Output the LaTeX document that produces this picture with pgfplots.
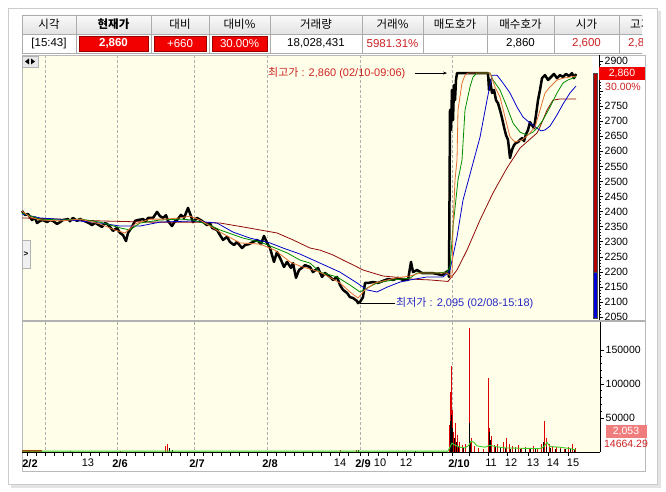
\documentclass[border=0pt]{standalone}
\usepackage{pgfplots}
\pgfplotsset{compat=1.18}
\usetikzlibrary{arrows.meta}
\usepackage{fontspec}
\setmainfont{Liberation Sans}
\newfontfamily\kr{Noto Sans CJK KR}
\definecolor{bgy}{RGB}{255,255,233}
\definecolor{gridc}{RGB}{175,175,175}
\definecolor{ma5}{RGB}{228,112,52}
\definecolor{ma10}{RGB}{0,140,0}
\definecolor{ma20}{RGB}{0,0,205}
\definecolor{ma60}{RGB}{145,10,10}
\definecolor{hired}{RGB}{205,35,35}
\definecolor{lowblue}{RGB}{40,40,195}
\definecolor{cellred}{RGB}{242,0,0}
\definecolor{volred}{RGB}{222,0,0}
\definecolor{volgreen}{RGB}{60,205,40}
\definecolor{pinkc}{RGB}{240,125,125}
\begin{document}
\begin{tikzpicture}[x=1pt,y=1pt]
\path[fill=white] (0,0) rectangle (666,492);
\begin{scope}[shift={(0,492)}, y=-1pt]
% card with shadow
\fill[gray!22] (11,11) rectangle (661,488);
\fill[white] (8,8) rectangle (657,484);
\draw[gray!40] (8,8) rectangle (657,484);
% header table
\begin{scope}
\clip (21.5,14.5) rectangle (642,53.5);
\shade[top color=gray!4, bottom color=gray!22] (22,15) rectangle (700,34);
\draw[gray!65] (22,15) rectangle (700,53);
\draw[gray!65] (22,34) -- (700,34);
\foreach \x in {76,151,209,270,362,423,487,554,619} \draw[gray!65] (\x,15) -- (\x,53);
\fill[cellred] (79,36) rectangle (148,51);
\fill[cellred] (154,36) rectangle (206,51);
\fill[cellred] (212,36) rectangle (267,51);
\draw[red!60!black] (79,36) rectangle (148,51);
\draw[red!60!black] (154,36) rectangle (206,51);
\draw[red!60!black] (212,36) rectangle (267,51);
\begin{scope}[every node/.style={font=\kr\fontsize{11.5}{12}\selectfont, inner sep=0pt}]
\node at (49,24.5) {시각};
\node at (113.5,24.5) {\bfseries 현재가};
\node at (180,24.5) {대비};
\node at (239.5,24.5) {대비\%};
\node at (316,24.5) {거래량};
\node at (392.5,24.5) {거래\%};
\node at (455,24.5) {매도호가};
\node at (520.5,24.5) {매수호가};
\node at (586.5,24.5) {시가};
\node[anchor=west] at (630,24.5) {고가};
\end{scope}
\begin{scope}[every node/.style={font=\fontsize{11.5}{12}\selectfont, inner sep=0pt}]
\node at (49,43.5) {[15:43]};
\node[text=white] at (113.5,43.5) {\bfseries 2,860};
\node[text=white] at (180,43.5) {+660};
\node[text=white] at (239.5,43.5) {30.00\%};
\node at (316,43.5) {18,028,431};
\node[text=hired] at (392.5,43.5) {5981.31\%};
\node at (520.5,43.5) {2,860};
\node[text=hired] at (586.5,43.5) {2,600};
\node[text=hired, anchor=west] at (628,43.5) {2,860};
\end{scope}
\end{scope}
% chart backgrounds
\fill[bgy] (22,55) rectangle (592,320);
\fill[bgy] (22,322) rectangle (600,452);
\foreach \x in {45,117,194,267,360,452} {
  \draw[gridc, dashed, dash pattern=on 3pt off 2pt] (\x,55) -- (\x,320);
  \draw[gridc, dashed, dash pattern=on 3pt off 2pt] (\x,322) -- (\x,452);
}
\draw[gray!55] (22,55) rectangle (645,471);
\draw[gray!60, line width=1.6pt] (22,321) -- (645,321);
% small widgets
\fill[gray!18] (22,56) rectangle (38,67);
\draw[gray!60] (22,56) rectangle (38,67);
\fill[black] (25,61.5) -- (29,58.5) -- (29,64.5) -- cycle;
\fill[black] (35,61.5) -- (31,58.5) -- (31,64.5) -- cycle;
\fill[gray!12] (22,240) rectangle (30,268);
\draw[gray!60] (22,240) rectangle (30,268);
\node[font=\fontsize{8}{8}\selectfont\bfseries, inner sep=0pt] at (26,254) {>};
\end{scope}

% ---------------- price panel ----------------
\begin{axis}[
  at={(22pt,172pt)}, anchor=south west,
  width=577pt, height=265pt, scale only axis,
  xmin=22, xmax=599, ymin=2040, ymax=2920,
  axis x line=none, axis y line*=right,
  ytick={2050,2100,...,2900}, minor y tick num=4,
  yticklabels={2050,2100,2150,2200,2250,2300,2350,2400,2450,2500,2550,2600,2650,2700,2750,{},{},2900},
  tick align=outside, major tick length=4pt, minor tick length=2pt,
  y axis line style={black, line width=0.5pt},
  tick style={black, line width=0.5pt},
  yticklabel style={font=\fontsize{10.5}{11}\selectfont, inner sep=1.5pt},
  clip=false,
]
% range bar
\addplot[fill=red!70!black, draw=black!70, line width=0.3pt] coordinates {(593,2200) (597,2200) (597,2860) (593,2860) (593,2200)};
\addplot[fill=blue!85!black, draw=black!70, line width=0.3pt] coordinates {(593,2045) (597,2045) (597,2200) (593,2200) (593,2045)};
% price
\addplot[black, line width=2.5pt, line join=round] coordinates {
(22,2402)(25,2389)(28,2392)(32,2372)(35,2380)(37,2362)(40,2369)(43,2372)(47,2365)(50,2372)(53,2369)(57,2359)(60,2365)(63,2372)(68,2375)(70,2368)(73,2379)(77,2369)(80,2376)(82,2372)(87,2365)(90,2360)(92,2355)(95,2363)(97,2359)(102,2349)(105,2362)(107,2359)(110,2349)(113,2336)(117,2346)(120,2329)(123,2322)(126,2302)(128,2329)(132,2349)(135,2369)(138,2372)(143,2375)(146,2368)(148,2379)(153,2379)(157,2399)(160,2385)(163,2379)(166,2388)(168,2369)(172,2352)(175,2368)(177,2372)(181,2389)(184,2379)(188,2412)(191,2385)(193,2365)(197,2379)(202,2369)(207,2355)(210,2362)(212,2346)(217,2339)(220,2322)(223,2306)(227,2316)(230,2299)(234,2289)(237,2299)(242,2279)(245,2289)(249,2292)(253,2299)(257,2306)(261,2292)(264,2319)(267,2296)(270,2279)(274,2233)(277,2266)(281,2239)(284,2216)(287,2233)(291,2213)(293,2229)(296,2180)(299,2206)(303,2216)(305,2222)(310,2216)(313,2199)(318,2213)(322,2183)(325,2196)(330,2183)(333,2173)(337,2183)(340,2156)(343,2140)(347,2130)(350,2116)(353,2113)(357,2103)(358,2096)(360,2100)(363,2116)(365,2163)(368,2163)(373,2166)(378,2163)(383,2170)(388,2176)(393,2173)(398,2180)(403,2173)(408,2173)(411,2233)(413,2199)(417,2206)(422,2196)(427,2196)(432,2196)(437,2193)(442,2189)(445,2196)(448,2203)(449,2183)
(449.5,2438)(450,2738)(451,2671)(452,2804)(453,2704)(454,2820)(455,2770)(456,2837)(457,2860)(488,2860)(489,2804)(490,2837)(492,2794)(494,2804)(496,2770)(498,2760)(500,2737)(502,2711)(504,2681)(506,2654)(508,2638)(510,2578)(512,2605)(514,2621)(516,2628)(518,2631)(520,2638)(522,2644)(524,2634)(526,2657)(528,2671)(530,2697)(532,2687)(534,2677)(536,2721)(538,2770)(540,2804)(542,2843)(545,2853)(548,2837)(551,2847)(554,2857)(557,2843)(560,2853)(563,2847)(566,2857)(569,2850)(572,2860)(574,2843)(576,2857)
};
% moving averages
\addplot[ma60, line width=0.8pt] coordinates {
(22,2379)(60,2375)(100,2369)(150,2365)(193,2365)(220,2362)(243,2349)(260,2339)(277,2329)(293,2306)(310,2279)(320,2272)(333,2256)(343,2239)(353,2223)(363,2206)(373,2196)(383,2186)(393,2183)(410,2176)(430,2173)(448,2168)(457,2206)(467,2272)(480,2372)(493,2462)(507,2545)(520,2611)(537,2661)(540,2681)(547,2737)(553,2770)(560,2774)(576,2774)
};
\addplot[ma20, line width=0.8pt] coordinates {
(22,2392)(40,2379)(70,2372)(100,2362)(120,2352)(140,2352)(160,2365)(193,2369)(217,2362)(233,2332)(250,2312)(270,2296)(283,2279)(300,2259)(320,2229)(340,2199)(357,2163)(367,2140)(377,2133)(387,2149)(400,2166)(410,2173)(427,2183)(443,2183)(448,2196)(450,2206)(457,2316)(463,2438)(473,2561)(480,2647)(487,2770)(492,2853)(497,2853)(503,2827)(510,2794)(517,2747)(523,2714)(530,2694)(537,2677)(541,2668)(545,2671)(550,2684)(557,2721)(563,2757)(570,2794)(576,2817)
};
\addplot[ma10, line width=0.8pt] coordinates {
(22,2395)(40,2375)(60,2372)(80,2375)(100,2365)(120,2346)(130,2339)(140,2362)(160,2372)(180,2375)(193,2372)(210,2355)(220,2339)(243,2312)(260,2299)(273,2282)(287,2263)(300,2239)(310,2229)(320,2199)(337,2183)(350,2156)(360,2133)(367,2146)(377,2163)(393,2173)(410,2179)(417,2196)(433,2196)(447,2199)(450,2216)(453,2349)(458,2505)(462,2571)(465,2737)(470,2814)(473,2847)(477,2860)(490,2860)(493,2837)(500,2804)(507,2747)(513,2694)(520,2664)(527,2654)(533,2664)(538,2681)(543,2704)(550,2747)(557,2794)(563,2827)(568,2837)(576,2847)
};
\addplot[ma5, line width=0.8pt] coordinates {
(22,2402)(30,2382)(40,2372)(60,2369)(80,2375)(100,2359)(115,2339)(125,2329)(135,2359)(150,2375)(165,2375)(180,2379)(190,2385)(200,2372)(220,2332)(240,2296)(260,2292)(275,2272)(290,2233)(300,2219)(320,2199)(340,2163)(350,2133)(358,2113)(365,2140)(375,2163)(395,2179)(410,2186)(420,2196)(447,2196)(452,2183)(453,2349)(455,2505)(457,2571)(458,2737)(462,2827)(465,2853)(468,2860)(490,2860)(495,2814)(500,2780)(505,2714)(510,2648)(515,2631)(522,2638)(528,2654)(535,2681)(540,2737)(545,2794)(550,2814)(557,2837)(563,2843)(576,2850)
};
% annotations
\node[anchor=west, inner sep=0pt, text=hired, font=\fontsize{11}{12}\selectfont] at (axis cs:268,2860) {{\kr 최고가} : 2,860 (02/10-09:06)};
\draw[-{Stealth[length=4pt,width=3pt]}, black, line width=0.5pt] (axis cs:415,2860) -- (axis cs:447,2860);
\draw[black, line width=0.5pt] (axis cs:360,2096) -- (axis cs:395,2096);
\node[anchor=west, inner sep=0pt, text=lowblue, font=\fontsize{11}{12}\selectfont] at (axis cs:396,2096) {{\kr 최저가} : 2,095 (02/08-15:18)};
\node[fill=cellred, text=white, minimum width=46pt, minimum height=13pt, inner sep=0pt, font=\fontsize{10.5}{11}\selectfont] at (axis cs:622,2860) {2,860};
\node[fill=white, text=hired, inner sep=0.6pt, font=\fontsize{10.5}{11}\selectfont] at (axis cs:623,2815) {30.00\%};
\end{axis}

% ---------------- volume panel ----------------
\begin{axis}[
  at={(22pt,40pt)}, anchor=south west,
  width=578pt, height=130pt, scale only axis,
  xmin=22, xmax=600, ymin=0, ymax=191000,
  axis x line*=bottom, axis y line*=right,
  ytick={50000,100000,150000}, minor y tick num=4,
  yticklabels={50000,100000,150000},
  scaled y ticks=false, scaled x ticks=false,
  tick align=outside, major tick length=4pt, minor tick length=2pt,
  axis line style={black, line width=0.6pt},
  tick style={black, line width=0.5pt},
  yticklabel style={font=\fontsize{10.5}{11}\selectfont, inner sep=1.5pt},
  xtick={27,36,45,54,63,72,81,90,99,108,117,126,135,144,153,162,171,180,187,194,203,212,221,230,239,248,257,267,276,285,294,303,312,321,330,339,348,360,368,378,387,397,406,414,423,432,442,452,469,488,507,528,548,568},
  xticklabels={},
  extra x ticks={30,88,120,197,270,340,363,380,406,459,491,511,533,553,573},
  extra x tick labels={\textbf{2/2},13,\textbf{2/6},\textbf{2/7},\textbf{2/8},14,\textbf{2/9},10,12,\textbf{2/10},11,12,13,14,15},
  extra x tick style={major tick length=0pt, xticklabel style={font=\fontsize{11}{12}\selectfont, anchor=north, inner sep=1pt, yshift=-6pt}},
  clip=false,
]
\addplot[volred, line width=1.6pt] coordinates {(22,1200) (42,1200)};
\addplot[ycomb, volred, line width=0.8pt] coordinates {
(120,2000)(165,9000)(167,12000)(340,2500)(356,3000)
(449,40000)(450,88000)(451,127000)(452,62000)(453,30000)(455,43000)(457,25000)(459,14000)(462,10000)(465,12000)(469,182000)(471,20000)(474,9000)(478,6000)(483,5000)(488,108000)(489,35000)(491,24000)(494,10000)(497,12000)(500,8000)(503,15000)(506,20000)(509,12000)(512,9000)(515,7000)(518,10000)(521,6000)(525,8000)(529,5000)(533,9000)(537,6000)(541,12000)(544,46000)(546,20000)(549,12000)(552,9000)(556,8000)(560,6000)(564,5000)(568,8000)(572,12000)(575,6000)
};
\addplot[ycomb, black, line width=0.8pt] coordinates {
(70,1500)(169,6000)(172,3000)(358,2500)(415,2000)(450,45000)(451,55000)(452,35000)(454,20000)(456,15000)(458,8000)(463,6000)(469,42000)(470,15000)(489,29000)(490,18000)(495,8000)(500,6000)(505,6000)(510,5000)(515,4000)(520,4000)(525,5000)(530,5000)(535,4000)(543,15000)(546,8000)(550,6000)(555,5000)(560,5000)(565,4000)(570,4000)(574,3000)
};
\addplot[volgreen, line width=0.9pt] coordinates {
(22,1300)(448,1300)(450,7000)(452,13000)(455,10000)(460,7000)(465,6000)(469,10000)(471,16000)(474,14000)(477,9000)(485,7000)(490,10000)(495,8000)(505,6000)(520,5500)(540,5000)(544,8000)(547,14000)(550,8000)(560,7000)(570,5000)(576,3000)
};
\node[fill=pinkc, text=white, minimum width=41pt, minimum height=13pt, inner sep=0pt, font=\fontsize{10.5}{11}\selectfont] at (axis cs:626,30500) {2,053};
\node[text=hired, inner sep=0pt, font=\fontsize{10.5}{11}\selectfont] at (axis cs:626,11500) {14664.29};
\end{axis}
\end{tikzpicture}
\end{document}
